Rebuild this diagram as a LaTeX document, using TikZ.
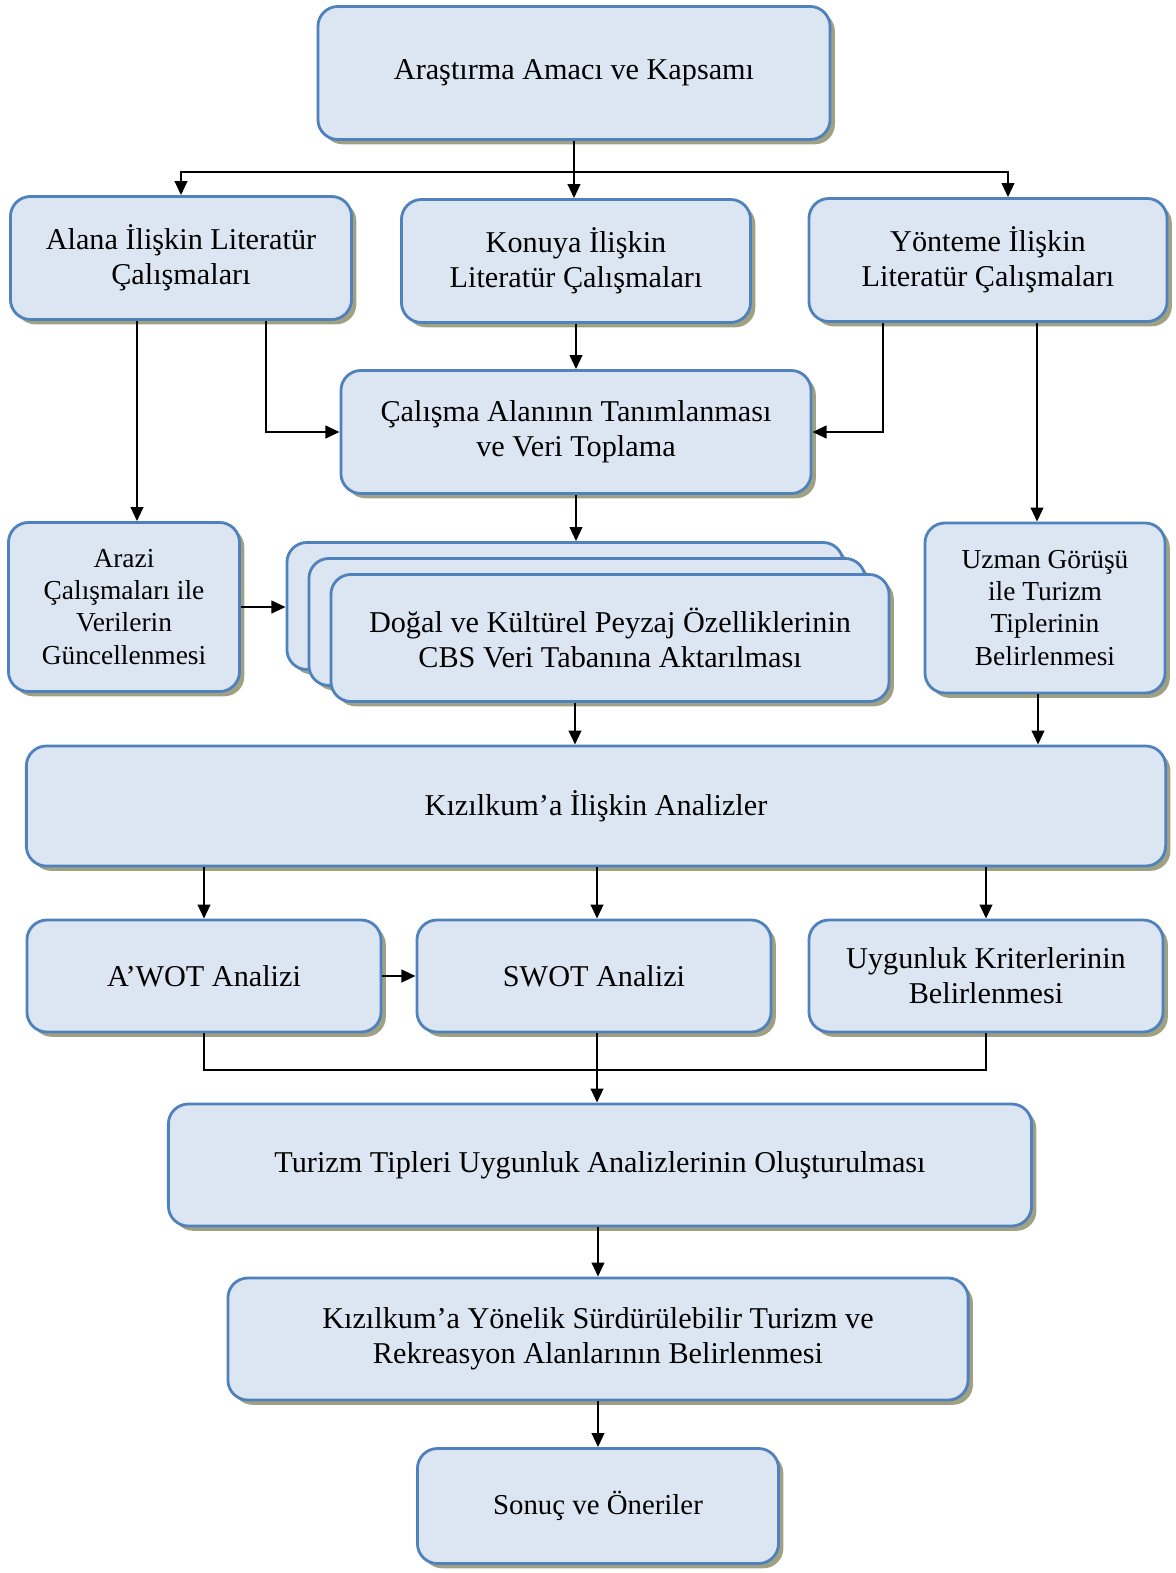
\documentclass[tikz,border=0pt]{standalone}
\usepackage{fontspec}
\setmainfont{Liberation Serif}
\usetikzlibrary{arrows.meta,shadows}

\definecolor{boxfill}{RGB}{220,230,242}
\definecolor{boxline}{RGB}{79,129,189}
\definecolor{shade}{RGB}{150,150,118}

\tikzset{
  box/.style={draw=boxline, fill=boxfill, line width=2pt, rounded corners=0.5cm,
    align=center, inner sep=2pt, font=\fontsize{21.5}{25}\selectfont,
    drop shadow={shadow xshift=0.12cm, shadow yshift=-0.12cm, fill=shade, opacity=0.9}},
  smalltext/.style={font=\fontsize{19.5}{22.8}\selectfont},
  arr/.style={-{Triangle[length=10pt,width=9pt]}, line width=1.5pt},
  link/.style={line width=1.5pt},
}

\begin{document}
\begin{tikzpicture}[x=0.025cm, y=-0.025cm]
\useasboundingbox (0,0) rectangle (1176,1573);

% Top
\node[box, minimum width=12.8cm, minimum height=3.325cm] (aim) at (574,73) {Araştırma Amacı ve Kapsamı};

% Literature row
\node[box, minimum width=8.525cm, minimum height=3.075cm] (alana) at (181,258) {Alana İlişkin Literatür\\Çalışmaları};
\node[box, minimum width=8.725cm, minimum height=3.075cm] (konu) at (576,261) {Konuya İlişkin\\Literatür Çalışmaları};
\node[box, minimum width=8.95cm, minimum height=3.075cm] (yontem) at (988,260) {Yönteme İlişkin\\Literatür Çalışmaları};

% Study area
\node[box, minimum width=11.75cm, minimum height=3.075cm] (alan) at (576,432) {Çalışma Alanının Tanımlanması\\ve Veri Toplama};

% Middle row
\node[box, smalltext, minimum width=5.775cm, minimum height=4.225cm] (arazi) at (124,607) {Arazi\\Çalışmaları ile\\Verilerin\\Güncellenmesi};
\node[box, minimum width=13.9cm, minimum height=3.175cm] (cbsA) at (565,606) {};
\node[box, minimum width=13.9cm, minimum height=3.175cm] (cbsB) at (587,622) {};
\node[box, minimum width=13.95cm, minimum height=3.175cm] (cbs) at (610,638) {Doğal ve Kültürel Peyzaj Özelliklerinin\\CBS Veri Tabanına Aktarılması};
\node[box, smalltext, minimum width=6cm, minimum height=4.25cm] (uzman) at (1045,608) {Uzman Görüşü\\ile Turizm\\Tiplerinin\\Belirlenmesi};

% Analyses
\node[box, minimum width=28.475cm, minimum height=3cm] (analiz) at (596,806) {Kızılkum’a İlişkin Analizler};

\node[box, minimum width=8.85cm, minimum height=2.8cm] (awot) at (204,976) {A’WOT Analizi};
\node[box, minimum width=8.85cm, minimum height=2.8cm] (swot) at (594,976) {SWOT Analizi};
\node[box, minimum width=8.85cm, minimum height=2.8cm] (kriter) at (986,976) {Uygunluk Kriterlerinin\\Belirlenmesi};

% Results
\node[box, minimum width=21.575cm, minimum height=3.05cm] (uygun) at (600,1165) {Turizm Tipleri Uygunluk Analizlerinin Oluşturulması};
\node[box, minimum width=18.5cm, minimum height=3.05cm] (rekre) at (598,1339) {Kızılkum’a Yönelik Sürdürülebilir Turizm ve\\Rekreasyon Alanlarının Belirlenmesi};
\node[box, font=\fontsize{20.5}{24}\selectfont, minimum width=9.025cm, minimum height=2.875cm] (sonuc) at (598,1506) {Sonuç ve Öneriler};

% Connectors
\coordinate (split) at (aim.south |- 0,172);
\coordinate (merge) at (597,1070);

\draw[link] (aim.south) -- (split);
\draw[arr] (split) -| (alana.north);
\draw[arr] (split) -- (split |- konu.north);
\draw[arr] (split) -| ([xshift=0.5cm]yontem.north);

\draw[arr] (konu.south) -- (konu.south |- alan.north);
\draw[arr] ([xshift=2.125cm]alana.south) |- (alan.west);
\draw[arr] ([xshift=-2.625cm]yontem.south) |- (alan.east);
\draw[arr] ([xshift=-1.1cm]alana.south) -- ([xshift=-1.1cm]alana.south |- arazi.north);
\draw[arr] ([xshift=1.225cm]yontem.south) -- ([xshift=1.225cm]yontem.south |- uzman.north);

\draw[arr] (alan.south) -- (alan.south |- cbsA.north);
\draw[arr] (arazi.east) -- (arazi.east -| cbsA.west);
\draw[arr] ([xshift=-0.875cm]cbs.south) -- ([xshift=-0.875cm]cbs.south |- analiz.north);
\draw[arr] ([xshift=-0.175cm]uzman.south) -- ([xshift=-0.175cm]uzman.south |- analiz.north);

\draw[arr] (awot.north |- analiz.south) -- (awot.north);
\draw[arr] ([xshift=0.075cm]swot.north |- analiz.south) -- ([xshift=0.075cm]swot.north);
\draw[arr] (kriter.north |- analiz.south) -- (kriter.north);
\draw[arr] (awot.east) -- (swot.west);

\draw[link] (awot.south) |- (merge) -| (kriter.south);
\draw[arr] (merge |- swot.south) -- (merge |- uygun.north);
\draw[arr] (rekre.north |- uygun.south) -- (rekre.north);
\draw[arr] (rekre.south) -- (sonuc.north);

\end{tikzpicture}
\end{document}
